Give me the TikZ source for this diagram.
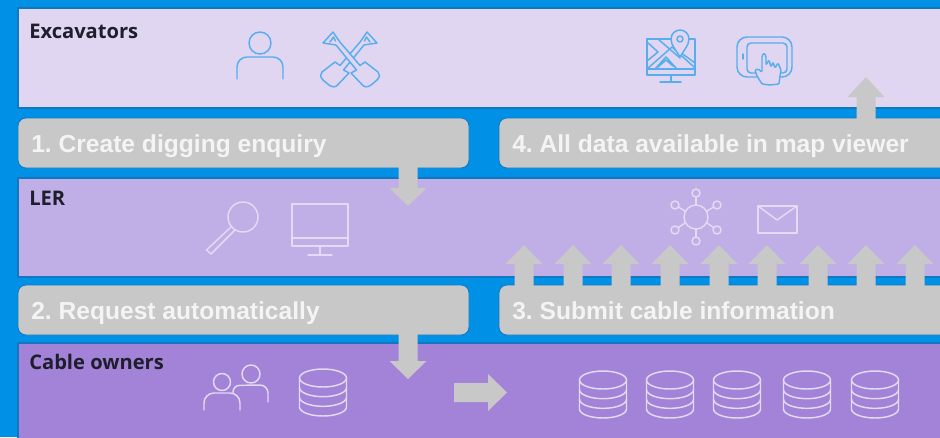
\documentclass[tikz,border=0pt]{standalone}
\usepackage{fontspec}
\usetikzlibrary{calc}
\setmainfont{Liberation Sans}
\newfontfamily\bandfont{Open Sans}
\definecolor{bgblue}{HTML}{0090E6}
\definecolor{edgeblue}{HTML}{0F78C0}
\definecolor{bandA}{HTML}{E1D6F2}
\definecolor{bandB}{HTML}{C0AEE6}
\definecolor{bandC}{HTML}{A383D8}
\definecolor{boxgray}{HTML}{C8C8C8}
\definecolor{iconblue}{HTML}{58AEEC}
\definecolor{iconlight}{HTML}{E3DAF3}
\definecolor{labeldark}{HTML}{1E1E2C}
\definecolor{steplabel}{HTML}{F4F4F4}
\tikzset{
  x=0.75pt,y=-0.75pt,
  band/.style={fill=#1,draw=edgeblue,line width=0.8pt},
  stepbox/.style={fill=boxgray,draw=edgeblue,line width=0.6pt,rounded corners=6pt},
  blocktip/.style={fill=boxgray,draw=none},
  steptext/.style={anchor=base west,inner sep=0pt,text=steplabel,font=\fontsize{18.45pt}{20pt}\selectfont\bfseries\frenchspacing},
  bandtext/.style={anchor=base west,inner sep=0pt,text=labeldark,font=\bandfont\fontsize{15.1pt}{17pt}\selectfont\bfseries},
  iconA/.style={draw=iconblue,line width=1.1pt,line join=round,line cap=round},
  iconB/.style={draw=iconlight,line width=1.1pt,line join=round,line cap=round},
}
% person: style, centre x, head y, head r, half width, shoulder y, foot y
\newcommand{\personicon}[7]{%
  \draw[#1] (#2,#3) circle[radius=#4];
  \draw[#1] (#2-#5,#7) -- (#2-#5,#6+10) arc[start angle=180,end angle=90,radius=7.5pt] -- (#2+#5-10,#6) arc[start angle=90,end angle=0,radius=7.5pt] -- (#2+#5,#7);
}
% database: centre x, top y, bottom y
\newcommand{\dbicon}[3]{%
  \draw[iconB] (#1,#2+9) ellipse[x radius=23.5,y radius=9];
  \draw[iconB] (#1-23.5,#2+9) -- (#1-23.5,#3-9) arc[start angle=180,end angle=360,x radius=23.5,y radius=-9] -- (#1+23.5,#2+9);
  \draw[iconB] (#1-23.5,{#2+9+(#3-#2-18)/3}) arc[start angle=180,end angle=360,x radius=23.5,y radius=-9];
  \draw[iconB] (#1-23.5,{#2+9+2*(#3-#2-18)/3}) arc[start angle=180,end angle=360,x radius=23.5,y radius=-9];
}
\newcommand{\vertblock}[4]{% x, tip y, head base y, foot y
  \fill[blocktip] (#1,#2) -- (#1+18.5,#3) -- (#1+9.5,#3) -- (#1+9.5,#4) -- (#1-9.5,#4) -- (#1-9.5,#3) -- (#1-18.5,#3) -- cycle;
}
% shovel with its grip upper left and blade lower right of the axis x=0
\newcommand{\shovelicon}[1]{%
  \begin{scope}[shift={(350,0)},xscale=#1]
    \draw[iconA,fill=bandA] (-10.5,41.5) -- (-17,32) -- (-27,43) -- (-14,45) -- (6.5,70) -- (1,73)
      -- (12,84.5) .. controls (14,87.5) and (18,87.5) .. (21,85) -- (27,80) .. controls (30,77) and (30,74) .. (28,72)
      -- (15,62) -- (10,65.5) -- cycle;
    \draw[iconA] (-20,42) -- (-16.5,37) -- (-14.5,41);
  \end{scope}
}
\begin{document}
\begin{tikzpicture}
\useasboundingbox (0,0) rectangle (940,437);
\clip (0,0) rectangle (940,437);
\fill[bgblue] (0,0) rectangle (940,437);
% bands
\draw[band=bandA] (18,8) rectangle (960,108);
\draw[band=bandB] (18,178) rectangle (960,277);
\draw[band=bandC] (18,343) rectangle (960,450);
% step boxes
\draw[stepbox] (18,118) rectangle (469,168);
\draw[stepbox] (499,118) rectangle (970,168);
\draw[stepbox] (18,285) rectangle (469,335);
\draw[stepbox] (499,285) rectangle (970,335);
% arrows
\vertblock{408}{206}{188}{167}
\vertblock{408}{379}{361}{334}
\vertblock{866}{77}{97}{119}
\foreach \ax in {524,573,621,670,719,767,818,866,915} {\vertblock{\ax}{245}{264}{286}}
\fill[blocktip] (507,392.5) -- (488,374) -- (488,383) -- (454,383) -- (454,402) -- (488,402) -- (488,411) -- cycle;
% texts
\node[bandtext] (lblexc) at (29,38) {Excavators};
\node[bandtext] (lbller) at (29,205) {LER};
\node[bandtext] (lblcab) at (29,369) {Cable owners};
\node[steptext] (s1) at (31,152) {1. Create digging enquiry};
\node[steptext] (s4) at (512,152) {4. All data available in map viewer};
\node[steptext] (s2) at (31,319) {2. Request automatically};
\node[steptext] (s3) at (512,319) {3. Submit cable information};
% excavator icons
\personicon{iconA}{260}{43}{11}{23}{57}{79}
\shovelicon{-1}
\shovelicon{1}
% map monitor
\draw[iconA] (672,39) -- (647,39) -- (647,75) -- (695,75) -- (695,39) -- (688,39);
\draw[iconA] (647,69) -- (695,69) (671,75) -- (671,82) (660,82) -- (681,82);
\draw[iconA] (647,42) -- (658,52) -- (647,61) (658,39) -- (680,58) (695,63) -- (680,52)
  (647,69) -- (672,47) -- (694,67) (655,69) -- (666,57) -- (677,69) (658,67) -- (666,60) -- (673,66);
\draw[iconA,fill=bandA] (680,57) .. controls (676,50) and (671,45) .. (671,39) .. controls (671,34) and (675,30) .. (680,30) .. controls (685,30) and (689,34) .. (689,39) .. controls (689,45) and (684,50) .. (680,57) -- cycle;
\draw[iconA] (680,39) circle[radius=3];
% tablet
\draw[iconA,rounded corners=7.5pt] (737,37) rectangle (792,77);
\draw[iconA,rounded corners=3pt] (747,43) rectangle (787,73);
\draw[iconA] (743,54) -- (743,59);
\draw[iconA,fill=bandA,rounded corners=0.8pt] (770,85) -- (762,84) -- (757,76) -- (755,70) -- (758,69) -- (762,72) -- (762,56) -- (764,53) -- (766,56) -- (766,65) -- (769,60) -- (771,67) -- (773,62) -- (775,68) -- (778,63) -- (781,70) -- (780,76) -- (779,84) -- cycle;
% LER icons
\draw[iconB] (243,217) circle[radius=15];
\draw[iconB] (231.5,226.5) -- (206.5,250) -- (211,254) -- (235,230);
\draw[iconB] (292,204) rectangle (348,246);
\draw[iconB] (292,238) -- (348,238) (320,246) -- (320,255) (308,255) -- (332,255);
\draw[iconB] (696,217) circle[radius=12];
\foreach \sx/\sy/\ex/\ey in {696/193/696/205, 696/241/696/229, 675/205/685/211, 717/205/707/211, 675/230/685/223, 717/230/707/223} {
  \draw[iconB] (\sx,\sy) circle[radius=4];
  \draw[iconB] ($(\sx,\sy)!3pt!(\ex,\ey)$) -- (\ex,\ey);
}
\draw[iconB] (758,206) rectangle (797,233);
\draw[iconB] (758,206) -- (777,220) -- (797,206);
% cable owner icons
\personicon{iconB}{222}{382}{8.5}{18}{393}{410}
\draw[iconB] (251,374) circle[radius=9];
\draw[iconB] (233,393) -- (233,392) arc[start angle=180,end angle=90,radius=5pt] -- (260,385) arc[start angle=90,end angle=0,radius=6pt] -- (268,402);
\dbicon{323}{369}{416}
\foreach \dx in {603,670,737,807,875} {\dbicon{\dx}{371}{418}}
\end{tikzpicture}
\end{document}
